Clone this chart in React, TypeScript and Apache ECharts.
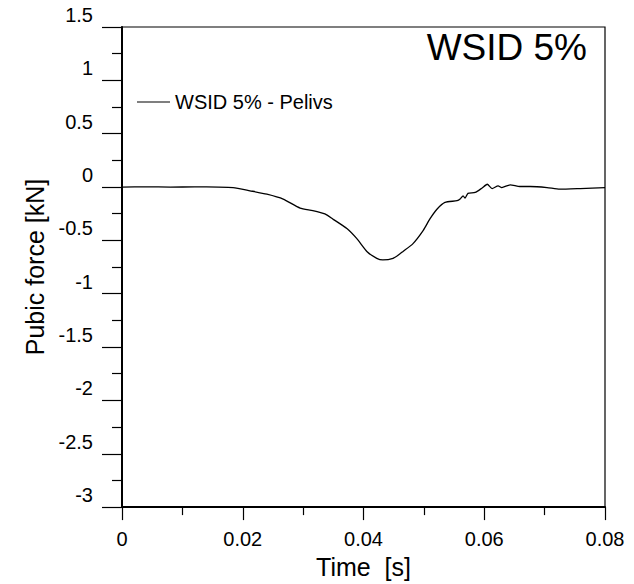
import React, { useEffect, useRef } from "react";
import * as echarts from "echarts";

const timeS = [0, 0.004, 0.008, 0.012, 0.016, 0.0184, 0.0212, 0.024, 0.0267, 0.0295, 0.0316, 0.0336, 0.0349, 0.0373, 0.0389, 0.0406, 0.0422, 0.0432, 0.0449, 0.046, 0.0465, 0.0482, 0.0499, 0.051, 0.0522, 0.0535, 0.0555, 0.056, 0.0565, 0.0568, 0.0573, 0.0585, 0.0596, 0.0605, 0.0613, 0.0623, 0.0629, 0.0643, 0.0659, 0.0676, 0.0704, 0.0725, 0.0759, 0.08];
const forceKN = [0, 0.002, 0, 0.001, 0, -0.005, -0.035, -0.067, -0.113, -0.197, -0.221, -0.252, -0.299, -0.391, -0.484, -0.606, -0.668, -0.683, -0.668, -0.628, -0.606, -0.53, -0.406, -0.299, -0.206, -0.144, -0.128, -0.113, -0.082, -0.104, -0.06, -0.051, -0.011, 0.026, -0.014, 0.011, -0.005, 0.021, 0.005, 0.005, -0.005, -0.02, -0.014, -0.005];

const seriesName = "WSID 5% - Pelivs";
const titleText = "WSID 5%";
const xName = "Time  [s]";
const yName = "Pubic force [kN]";

const FONT = "Liberation Sans, Arial, sans-serif";

export default function App() {
  const ref = useRef<HTMLDivElement>(null);
  useEffect(() => {
    if (!ref.current) return;
    const chart = echarts.init(ref.current, undefined, { renderer: "svg" });
    const data = timeS.map((t, i) => [t, forceKN[i]]);
    chart.setOption({
      animation: false,
      backgroundColor: "#ffffff",
      textStyle: { fontFamily: FONT, color: "#000" },
      title: {
        text: titleText,
        right: 47,
        top: 29,
        padding: 0,
        textStyle: { fontFamily: FONT, fontSize: 37, fontWeight: "normal", color: "#000" },
      },
      legend: {
        left: 137,
        top: 92,
        padding: 0,
        itemWidth: 33,
        itemHeight: 14,
        itemGap: 10,
        textStyle: { fontFamily: FONT, fontSize: 20, color: "#000" },
        data: [{ name: seriesName, icon: "path://M0,0 L33,0 L33,1 L0,1 Z" }],
      },
      grid: {
        left: 122,
        top: 27,
        width: 483,
        height: 487,
        show: true,
        borderColor: "#000",
        borderWidth: 1.2,
        backgroundColor: "transparent",
      },
      xAxis: {
        type: "value",
        min: 0,
        max: 0.08,
        interval: 0.02,
        name: xName,
        nameLocation: "middle",
        nameGap: 40,
        nameTextStyle: { fontFamily: FONT, fontSize: 25, color: "#000" },
        axisLine: { show: true, onZero: false, lineStyle: { color: "#000", width: 2 } },
        axisTick: { show: true, inside: false, length: 13, lineStyle: { color: "#000", width: 1.2 } },
        minorTick: { show: true, splitNumber: 2, length: 8, lineStyle: { color: "#000", width: 1.2 } },
        axisLabel: { fontFamily: FONT, fontSize: 20, color: "#000", margin: 22 },
        splitLine: { show: false },
      },
      yAxis: {
        type: "value",
        min: -3,
        max: 1.5,
        interval: 0.5,
        name: yName,
        nameLocation: "middle",
        nameGap: 62,
        nameRotate: 90,
        nameTextStyle: { fontFamily: FONT, fontSize: 25, color: "#000" },
        axisLine: { show: true, onZero: false, lineStyle: { color: "#000", width: 2 } },
        axisTick: { show: true, inside: false, length: 20, lineStyle: { color: "#000", width: 1.2 } },
        minorTick: { show: true, splitNumber: 2, length: 10, lineStyle: { color: "#000", width: 1.2 } },
        axisLabel: {
          fontFamily: FONT,
          fontSize: 20,
          color: "#000",
          margin: 29,
          verticalAlign: "bottom",
          padding: [0, 0, 2, 0],
        },
        splitLine: { show: false },
      },
      graphic: [
        {
          type: "text",
          left: -40,
          top: 535,
          style: { text: "0.08", fontFamily: FONT, fontSize: 20, fill: "#000", width: 44, align: "right" },
        },
      ],
      series: [
        {
          name: seriesName,
          type: "line",
          data,
          symbol: "none",
          showSymbol: false,
          smooth: 0.2,
          lineStyle: { color: "#000", width: 1.3 },
          itemStyle: { color: "#000" },
        },
      ],
    });
    return () => chart.dispose();
  }, []);
  return (
    <div
      ref={ref}
      style={{ position: "fixed", left: 0, top: 0, width: 634, height: 584, background: "#fff" }}
    />
  );
}
